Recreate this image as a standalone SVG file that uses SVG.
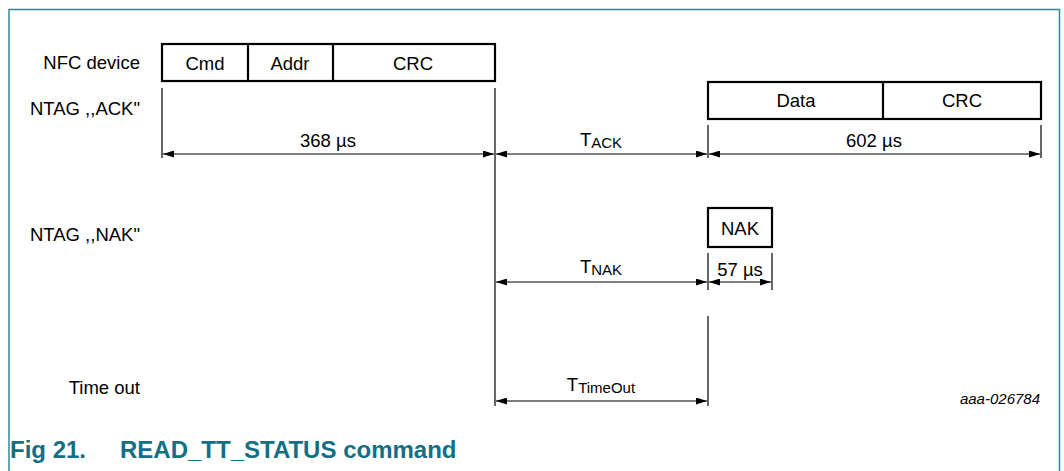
<svg xmlns="http://www.w3.org/2000/svg" width="1064" height="471" viewBox="0 0 1064 471">
<style>
.t{font-family:"Liberation Sans",Arial,sans-serif;font-size:18.5px;fill:#000}
.s{font-size:15px}
.m{text-anchor:middle}
.r{text-anchor:end}
.box{fill:#fff;stroke:#000;stroke-width:2.2}
.vl{stroke:#000;stroke-width:1.2;fill:none}
.ar{stroke:#000;stroke-width:1;fill:none;marker-start:url(#a);marker-end:url(#a)}
</style>
<defs>
<marker id="a" viewBox="0 0 11 7" refX="11" refY="3.5" markerWidth="11" markerHeight="7" markerUnits="userSpaceOnUse" orient="auto-start-reverse">
<path d="M0,0 L11,3.5 L0,7 Z" fill="#000"/>
</marker>
</defs>
<rect width="1064" height="471" fill="#fff"/>
<path d="M9,471 V9.5 H1059.5 V471" fill="none" stroke="#2b8a9a" stroke-width="1.5"/>

<g id="labels">
<text class="t r" x="140" y="69">NFC device</text>
<text class="t r" x="140" y="115">NTAG ,,ACK"</text>
<text class="t r" x="140" y="241">NTAG ,,NAK"</text>
<text class="t r" x="140" y="394">Time out</text>
</g>

<g id="nfc-frame">
<rect class="box" x="162" y="44" width="333" height="37"/>
<line class="vl" x1="248" y1="44" x2="248" y2="81" style="stroke-width:2.2"/>
<line class="vl" x1="333" y1="44" x2="333" y2="81" style="stroke-width:2.2"/>
<text class="t m" x="205" y="70">Cmd</text>
<text class="t m" x="290" y="70">Addr</text>
<text class="t m" x="413" y="70">CRC</text>
</g>

<g id="ack-frame">
<rect class="box" x="708" y="82" width="333" height="37"/>
<line class="vl" x1="883" y1="82" x2="883" y2="119" style="stroke-width:2.2"/>
<text class="t m" x="796" y="107">Data</text>
<text class="t m" x="962" y="107">CRC</text>
</g>

<g id="nak-frame">
<rect class="box" x="708" y="208" width="64" height="39"/>
<text class="t m" x="740" y="235">NAK</text>
</g>

<g id="connectors">
<line class="vl" x1="162" y1="88" x2="162" y2="158"/>
<line class="vl" x1="495" y1="88" x2="495" y2="406"/>
<line class="vl" x1="708" y1="125" x2="708" y2="158"/>
<line class="vl" x1="1041" y1="125" x2="1041" y2="158"/>
<line class="vl" x1="708" y1="253" x2="708" y2="290"/>
<line class="vl" x1="772" y1="253" x2="772" y2="290"/>
<line class="vl" x1="708" y1="316" x2="708" y2="406"/>

<line class="ar" x1="163" y1="154" x2="494" y2="154"/>
<line class="ar" x1="496" y1="154" x2="707" y2="154"/>
<line class="ar" x1="709" y1="154" x2="1040" y2="154"/>
<line class="ar" x1="496" y1="282" x2="707" y2="282"/>
<line class="ar" x1="709" y1="282" x2="771" y2="282"/>
<line class="ar" x1="496" y1="401" x2="707" y2="401"/>
</g>

<g id="dimension-labels">
<text class="t m" x="328" y="147">368 µs</text>
<text class="t m" x="601" y="146">T<tspan class="s" dy="2">ACK</tspan></text>
<text class="t m" x="874" y="147">602 µs</text>
<text class="t m" x="601" y="273">T<tspan class="s" dy="2">NAK</tspan></text>
<text class="t m" x="740" y="276">57 µs</text>
<text class="t m" x="601" y="391">T<tspan class="s" dy="2">TimeOut</tspan></text>
</g>

<text x="1040" y="404" style="font-family:'Liberation Sans',Arial,sans-serif;font-size:15px;font-style:italic;text-anchor:end">aaa-026784</text>
<text x="10" y="458" style="font-family:'Liberation Sans',Arial,sans-serif;font-size:24px;font-weight:bold;fill:#126f86">Fig 21.<tspan x="120">READ_TT_STATUS command</tspan></text>
</svg>
